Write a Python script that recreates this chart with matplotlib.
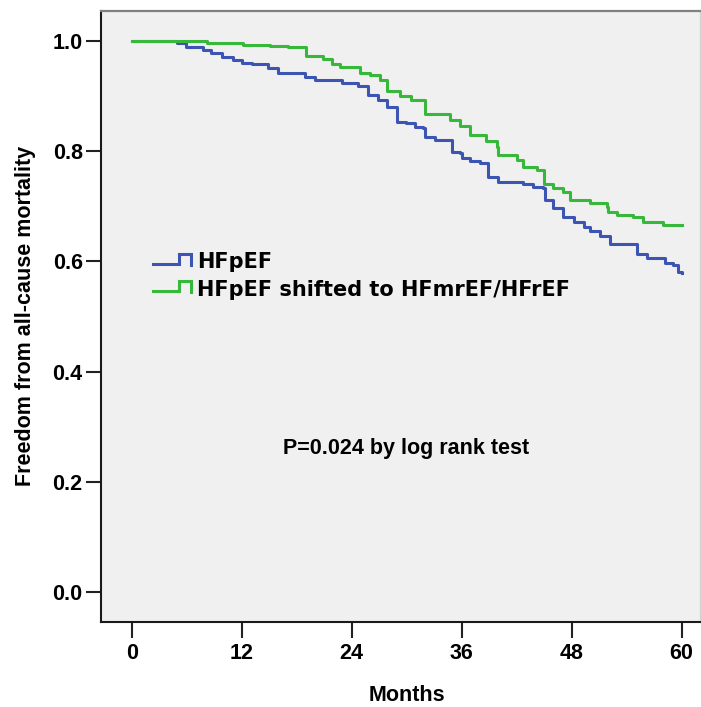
import matplotlib
matplotlib.use("Agg")
import matplotlib.pyplot as plt
import numpy as np
from matplotlib.lines import Line2D
from matplotlib.legend_handler import HandlerBase

# Kaplan-Meier steps (months, survival after step)
months_pef = [0, 4.9, 5.9, 7.8, 8.7, 9.8, 11.1, 12.0, 13.1, 14.9, 16.0, 18.9, 20.0, 22.9, 24.7, 25.8,
              26.9, 27.8, 28.9, 29.9, 30.9, 31.8, 32.0, 33.1, 34.9, 35.8, 36.0, 36.9, 38.0, 38.9, 40.0,
              42.7, 43.8, 44.9, 45.1, 46.0, 47.1, 48.2, 49.3, 50.0, 51.1, 52.2, 55.1, 56.2, 58.2, 59.1,
              59.6, 60.0]
surv_pef = [1.0, 0.995, 0.989, 0.983, 0.977, 0.971, 0.965, 0.959, 0.957, 0.950, 0.941, 0.935, 0.929,
            0.923, 0.918, 0.901, 0.892, 0.879, 0.853, 0.850, 0.844, 0.841, 0.826, 0.820, 0.799, 0.796,
            0.787, 0.781, 0.778, 0.753, 0.744, 0.741, 0.735, 0.732, 0.711, 0.696, 0.681, 0.672, 0.663,
            0.654, 0.645, 0.632, 0.614, 0.605, 0.596, 0.593, 0.581, 0.578]

months_shift = [0, 6.0, 8.2, 10.0, 12.1, 15.1, 17.1, 19.0, 20.9, 21.9, 22.7, 24.9, 26.0, 27.1, 27.9,
                29.3, 30.5, 32.0, 34.7, 35.8, 36.9, 38.7, 39.8, 40.0, 42.0, 42.7, 44.2, 45.0, 46.0,
                47.1, 47.8, 50.0, 51.8, 52.0, 52.9, 54.7, 55.8, 58.0, 60.0]
surv_shift = [1.0, 0.999, 0.996, 0.995, 0.993, 0.991, 0.989, 0.972, 0.967, 0.957, 0.953, 0.942, 0.938,
              0.929, 0.909, 0.900, 0.892, 0.868, 0.856, 0.846, 0.829, 0.818, 0.808, 0.793, 0.784,
              0.771, 0.765, 0.741, 0.732, 0.726, 0.711, 0.705, 0.699, 0.690, 0.684, 0.681, 0.672,
              0.666, 0.666]

labels = ["HFpEF", "HFpEF shifted to HFmrEF/HFrEF"]
x_ticks = [0, 12, 24, 36, 48, 60]
y_ticks = [0.0, 0.2, 0.4, 0.6, 0.8, 1.0]

blue = "#3c54b2"
green = "#38b83a"
fnt = ["Liberation Sans", "DejaVu Sans"]


class StepHandler(HandlerBase):
    # little step glyph like SPSS legend
    def create_artists(self, legend, orig_handle, xdescent, ydescent, width, height, fontsize, trans):
        xs = np.array([0, 0.68, 0.68, 1.0, 1.0]) * width - xdescent
        ys = np.array([0.3, 0.3, 1.0, 1.0, 0.22]) * height - ydescent
        ln = Line2D(xs, ys, color=orig_handle.get_color(), lw=orig_handle.get_linewidth(),
                    solid_joinstyle="miter")
        ln.set_transform(trans)
        return [ln]


fig = plt.figure(figsize=(7.01, 7.07), dpi=100)
ax = fig.add_axes([0.1441, 0.1202, 0.8545, 0.8646])
ax.set_facecolor("#f0f0f0")

l1, = ax.step(months_pef, surv_pef, where="post", color=blue, lw=2.2)
l2, = ax.step(months_shift, surv_shift, where="post", color=green, lw=2.2)

ax.set_xlim(-3.35, 62.0)
ax.set_ylim(-0.0544, 1.0544)
ax.set_xticks(x_ticks)
ax.set_yticks(y_ticks)
ax.set_yticklabels(["%.1f" % v for v in y_ticks])

for lab in ax.get_xticklabels() + ax.get_yticklabels():
    lab.set_family(fnt)
    lab.set_fontweight("bold")
    lab.set_fontsize(15.5)

ax.tick_params(axis="y", length=10.8, width=1.5, pad=2.4, color="#222222")
ax.tick_params(axis="x", length=11.5, width=1.5, pad=3.5, color="#222222")

for s in ["left", "bottom"]:
    ax.spines[s].set_linewidth(1.5)
    ax.spines[s].set_color("#1a1a1a")
ax.spines["top"].set_color("#808080")
ax.spines["top"].set_linewidth(1.6)
ax.spines["right"].set_color("#d4d4d4")
ax.spines["right"].set_linewidth(1.0)

ax.set_xlabel("Months", family=fnt, fontweight="bold", fontsize=15.5, va="top")
ax.xaxis.set_label_coords(0.510, -0.103)
ax.set_ylabel("Freedom from all-cause mortality", family=fnt, fontweight="bold", fontsize=15.5)
ax.yaxis.set_label_coords(-0.108, 0.5)

ax.text(29.9, 0.26, "P=0.024 by log rank test", family=fnt, fontweight="bold", fontsize=15.5,
        ha="center", va="center")

ax.legend([l1, l2], labels, handler_map={Line2D: StepHandler()}, loc="upper left",
          bbox_to_anchor=(0.0868, 0.605), frameon=False, borderpad=0, borderaxespad=0,
          handlelength=1.83, handletextpad=0.3, labelspacing=0.36,
          prop={"family": "DejaVu Sans", "weight": "bold", "size": 15})

fig.savefig("out.png", dpi=100)
